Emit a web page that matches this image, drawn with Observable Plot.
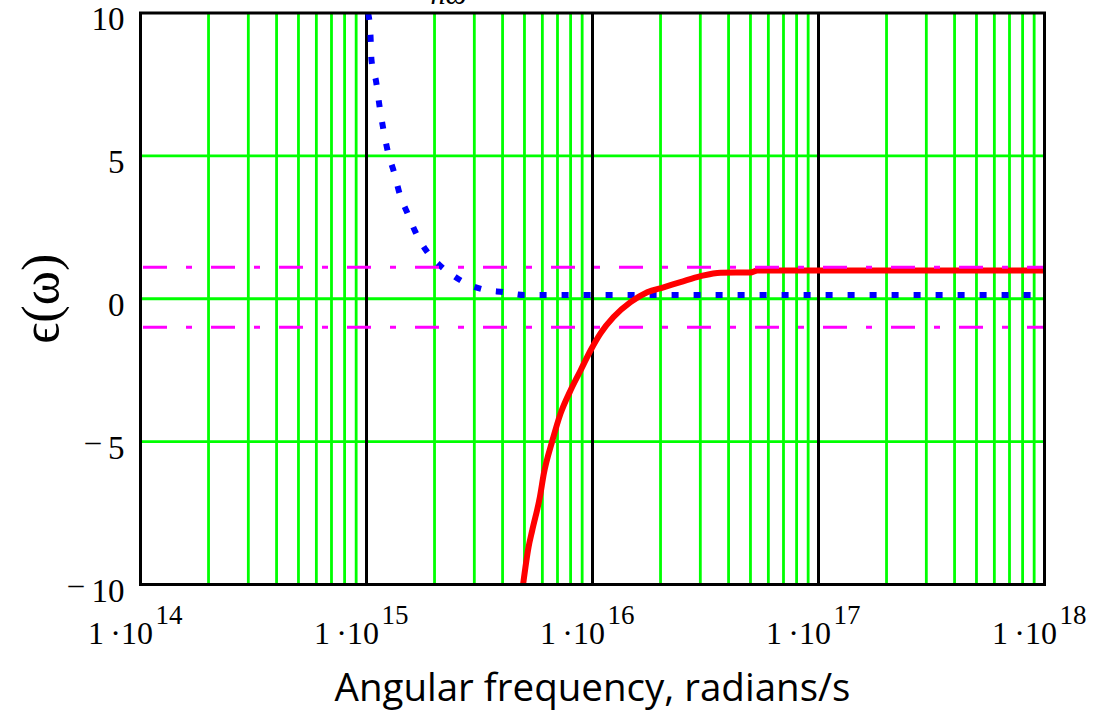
<!DOCTYPE html>
<html><head><meta charset="utf-8">
<script src="https://cdn.jsdelivr.net/npm/d3@7"></script>
<script src="https://cdn.jsdelivr.net/npm/@observablehq/plot@0.6"></script>
<style>
body{margin:0;background:#fff;overflow:hidden}
#chart{width:1099px;height:711px}
</style></head><body><div id="chart"></div>
<script>
// Real part (red, solid)
const redFreq = [4.93e15, 5.21e15, 5.41e15, 5.85e15, 6.09e15, 6.63e15, 7.22e15, 7.99e15, 8.85e15, 9.80e15, 1.085e16, 1.239e16, 1.473e16, 1.746e16, 2.062e16, 2.45e16, 3.01e16, 3.69e16, 5.0e16, 5.37e16, 1e18];
const redEps  = [-10, -8.70, -8.11, -6.94, -6.12, -4.99, -4.02, -3.21, -2.51, -1.81, -1.21, -0.64, -0.12, 0.23, 0.40, 0.58, 0.79, 0.91, 0.92, 0.99, 0.99];
// Imaginary part (blue, dotted)
const blueFreq = [1.017e15, 1.042e15, 1.052e15, 1.104e15, 1.141e15, 1.185e15, 1.242e15, 1.330e15, 1.404e15, 1.523e15, 1.648e15, 1.838e15, 2.077e15, 2.389e15, 2.790e15, 3.304e15, 4.05e15, 4.97e15, 1e18];
const blueEps  = [10, 9.18, 8.36, 7.58, 6.76, 5.97, 5.16, 4.37, 3.65, 2.97, 2.33, 1.69, 1.22, 0.84, 0.52, 0.32, 0.23, 0.13, 0.13];
// Reference levels (magenta dash-dot)
const refLevels = [1.1, -1.0];
// Axes
const decades = [1e14, 1e15, 1e16, 1e17, 1e18];
const decadeExponents = ["14", "15", "16", "17", "18"];
const innerDecades = [1e15, 1e16, 1e17];
const minorMultipliers = [2, 3, 4, 5, 6, 7, 8, 9];
const yTicks = [10, 5, 0, -5, -10];
const yTickDigits = ["10", "5", "0", "5", "10"];
const hGrid = [5, 0, -5];
const xLabel = "Angular frequency, radians/s";
const yLabel = "ϵ(ω)";
const topFragment = "nω";

const red = redFreq.map((f, i) => ({f, e: redEps[i]}));
const blue = blueFreq.map((f, i) => ({f, e: blueEps[i]}));
const minor = [];
for (const d of decades.slice(0, 4)) for (const m of minorMultipliers) minor.push(m * d);

const serif = "'Liberation Serif', 'DejaVu Serif', serif";
const GREEN = "#00ff00";

const plot = Plot.plot({
  width: 1099, height: 711,
  marginLeft: 140, marginRight: 55, marginTop: 12.5, marginBottom: 127,
  x: {type: "log", domain: [1e14, 1e18], axis: null},
  y: {domain: [-10, 10], axis: null},
  style: {background: "white", fontFamily: serif, overflow: "visible"},
  marks: [
    Plot.ruleX(minor, {stroke: GREEN, strokeWidth: 2.8}),
    Plot.ruleY(hGrid, {stroke: GREEN, strokeWidth: 2.8}),
    Plot.ruleX(innerDecades, {stroke: "black", strokeWidth: 3}),
    Plot.line(blue, {x: "f", y: "e", stroke: "#0000ff", strokeWidth: 6, strokeDasharray: "7,15", strokeLinecap: "butt", curve: "monotone-x", clip: true}),
    Plot.line(red, {x: "f", y: "e", stroke: "#ff0000", strokeWidth: 6, curve: "monotone-x", clip: true}),
    Plot.ruleY(refLevels, {stroke: "#ff00ff", strokeWidth: 3, strokeDasharray: "24,19,6,19", strokeDashoffset: 65}),
    Plot.frame({stroke: "black", strokeWidth: 3}),
    // y tick labels
    Plot.text(yTicks, {y: d => d, text: (d, i) => yTickDigits[i], frameAnchor: "left", dx: -16, dy: 17, textAnchor: "end", lineAnchor: "bottom", fontSize: 33, fill: "black"}),
    Plot.text([-5], {y: d => d, text: () => "–", frameAnchor: "left", dx: -40, dy: 0, textAnchor: "end", lineAnchor: "middle", fontSize: 30, fill: "black"}),
    Plot.text([-10], {y: d => d, text: () => "–", frameAnchor: "left", dx: -57, dy: 0, textAnchor: "end", lineAnchor: "middle", fontSize: 30, fill: "black"}),
    // x tick labels
    Plot.text(decades, {x: d => d, text: () => "1\u2009·10", frameAnchor: "bottom", dx: 12.5, dy: 59, textAnchor: "end", lineAnchor: "bottom", fontSize: 32, fill: "black"}),
    Plot.text(decades, {x: d => d, text: (d, i) => decadeExponents[i], frameAnchor: "bottom", dx: 15, dy: 39, textAnchor: "start", lineAnchor: "bottom", fontSize: 27, fill: "black"}),
    // axis titles
    Plot.text([1e16], {x: d => d, text: () => xLabel, frameAnchor: "bottom", dy: 116, textAnchor: "middle", lineAnchor: "bottom", fontSize: 38.5, fontFamily: "'Open Sans'", fill: "black"}),
    Plot.text([0], {y: d => d, text: () => yLabel, frameAnchor: "left", dx: -99, rotate: -90, textAnchor: "middle", lineAnchor: "middle", fontSize: 52, fill: "black"}),
    Plot.text([topFragment], {text: d => d, frameAnchor: "top-left", dx: 290, dy: -9, textAnchor: "start", lineAnchor: "bottom", fontSize: 30, fontStyle: "italic", fill: "black"})
  ]
});
document.getElementById("chart").appendChild(plot);
</script>
</body></html>
